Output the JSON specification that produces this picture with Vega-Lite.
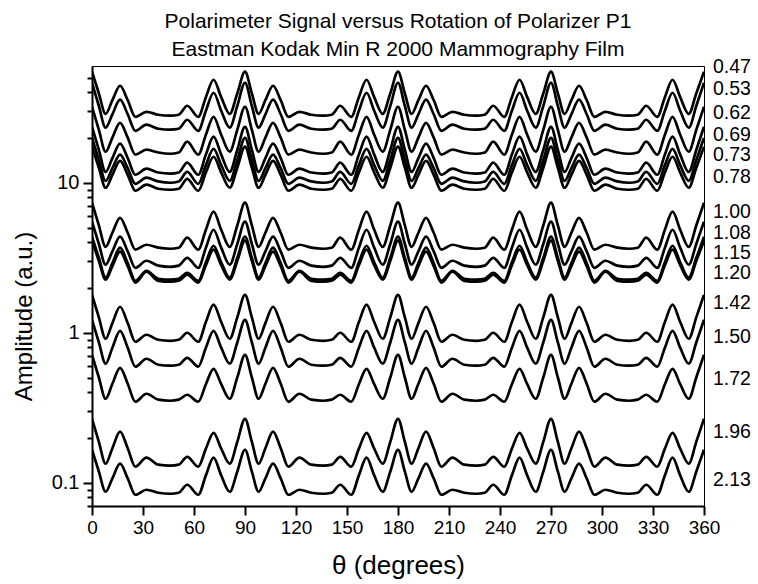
{
"$schema":"https://vega.github.io/schema/vega-lite/v6.json",
"width":612,"height":440,
"autosize":{"type":"none"},
"padding":{"left":92,"top":66,"right":54,"bottom":78},
"background":"white",
"config":{"font":"Liberation Sans","view":{"stroke":"black","strokeWidth":1},"axis":{"domainColor":"black","tickColor":"black","labelColor":"black","titleColor":"black","grid":false}},
"title":{"text":["Polarimeter Signal versus Rotation of Polarizer P1","Eastman Kodak Min R 2000 Mammography Film"],"fontSize":21,"fontWeight":"normal","lineHeight":28,"baseline":"alphabetic","offset":4,"dy":24,"color":"black","font":"Liberation Sans"},
"layer":[
{"data":{"values":[
{"s":"0.47","x":0,"y":55.0},{"s":"0.47","x":4,"y":39.5},{"s":"0.47","x":8,"y":28.8},{"s":"0.47","x":12,"y":35.5},{"s":"0.47","x":16.5,"y":44.3},{"s":"0.47","x":21,"y":35.5},{"s":"0.47","x":25.5,"y":27.5},{"s":"0.47","x":32,"y":29.7},{"s":"0.47","x":39,"y":28.4},{"s":"0.47","x":46,"y":28.0},{"s":"0.47","x":51,"y":28.4},{"s":"0.47","x":56,"y":32.6},{"s":"0.47","x":62.5,"y":27.5},{"s":"0.47","x":67,"y":37.2},{"s":"0.47","x":71.5,"y":48.6},{"s":"0.47","x":76,"y":37.2},{"s":"0.47","x":81,"y":28.8},{"s":"0.47","x":85.5,"y":39.5},
{"s":"0.47","x":90,"y":55.0},{"s":"0.47","x":94,"y":39.5},{"s":"0.47","x":98,"y":28.8},{"s":"0.47","x":102,"y":35.5},{"s":"0.47","x":106.5,"y":44.3},{"s":"0.47","x":111,"y":35.5},{"s":"0.47","x":115.5,"y":27.5},{"s":"0.47","x":122,"y":29.7},{"s":"0.47","x":129,"y":28.4},{"s":"0.47","x":136,"y":28.0},{"s":"0.47","x":141,"y":28.4},{"s":"0.47","x":146,"y":32.6},{"s":"0.47","x":152.5,"y":27.5},{"s":"0.47","x":157,"y":37.2},{"s":"0.47","x":161.5,"y":48.6},{"s":"0.47","x":166,"y":37.2},{"s":"0.47","x":171,"y":28.8},{"s":"0.47","x":175.5,"y":39.5},
{"s":"0.47","x":180,"y":55.0},{"s":"0.47","x":184,"y":39.5},{"s":"0.47","x":188,"y":28.8},{"s":"0.47","x":192,"y":35.5},{"s":"0.47","x":196.5,"y":44.3},{"s":"0.47","x":201,"y":35.5},{"s":"0.47","x":205.5,"y":27.5},{"s":"0.47","x":212,"y":29.7},{"s":"0.47","x":219,"y":28.4},{"s":"0.47","x":226,"y":28.0},{"s":"0.47","x":231,"y":28.4},{"s":"0.47","x":236,"y":32.6},{"s":"0.47","x":242.5,"y":27.5},{"s":"0.47","x":247,"y":37.2},{"s":"0.47","x":251.5,"y":48.6},{"s":"0.47","x":256,"y":37.2},{"s":"0.47","x":261,"y":28.8},{"s":"0.47","x":265.5,"y":39.5},
{"s":"0.47","x":270,"y":55.0},{"s":"0.47","x":274,"y":39.5},{"s":"0.47","x":278,"y":28.8},{"s":"0.47","x":282,"y":35.5},{"s":"0.47","x":286.5,"y":44.3},{"s":"0.47","x":291,"y":35.5},{"s":"0.47","x":295.5,"y":27.5},{"s":"0.47","x":302,"y":29.7},{"s":"0.47","x":309,"y":28.4},{"s":"0.47","x":316,"y":28.0},{"s":"0.47","x":321,"y":28.4},{"s":"0.47","x":326,"y":32.6},{"s":"0.47","x":332.5,"y":27.5},{"s":"0.47","x":337,"y":37.2},{"s":"0.47","x":341.5,"y":48.6},{"s":"0.47","x":346,"y":37.2},{"s":"0.47","x":351,"y":28.8},{"s":"0.47","x":355.5,"y":39.5},{"s":"0.47","x":360,"y":55.0},

{"s":"0.53","x":0,"y":46.4},{"s":"0.53","x":4,"y":32.6},{"s":"0.53","x":8,"y":23.3},{"s":"0.53","x":12,"y":28.6},{"s":"0.53","x":16.5,"y":35.8},{"s":"0.53","x":21,"y":28.6},{"s":"0.53","x":25.5,"y":22.2},{"s":"0.53","x":32,"y":24.4},{"s":"0.53","x":39,"y":22.9},{"s":"0.53","x":46,"y":22.6},{"s":"0.53","x":51,"y":22.9},{"s":"0.53","x":56,"y":26.3},{"s":"0.53","x":62.5,"y":22.2},{"s":"0.53","x":67,"y":30.2},{"s":"0.53","x":71.5,"y":39.8},{"s":"0.53","x":76,"y":30.2},{"s":"0.53","x":81,"y":23.3},{"s":"0.53","x":85.5,"y":32.6},
{"s":"0.53","x":90,"y":46.4},{"s":"0.53","x":94,"y":32.6},{"s":"0.53","x":98,"y":23.3},{"s":"0.53","x":102,"y":28.6},{"s":"0.53","x":106.5,"y":35.8},{"s":"0.53","x":111,"y":28.6},{"s":"0.53","x":115.5,"y":22.2},{"s":"0.53","x":122,"y":24.4},{"s":"0.53","x":129,"y":22.9},{"s":"0.53","x":136,"y":22.6},{"s":"0.53","x":141,"y":22.9},{"s":"0.53","x":146,"y":26.3},{"s":"0.53","x":152.5,"y":22.2},{"s":"0.53","x":157,"y":30.2},{"s":"0.53","x":161.5,"y":39.8},{"s":"0.53","x":166,"y":30.2},{"s":"0.53","x":171,"y":23.3},{"s":"0.53","x":175.5,"y":32.6},
{"s":"0.53","x":180,"y":46.4},{"s":"0.53","x":184,"y":32.6},{"s":"0.53","x":188,"y":23.3},{"s":"0.53","x":192,"y":28.6},{"s":"0.53","x":196.5,"y":35.8},{"s":"0.53","x":201,"y":28.6},{"s":"0.53","x":205.5,"y":22.2},{"s":"0.53","x":212,"y":24.4},{"s":"0.53","x":219,"y":22.9},{"s":"0.53","x":226,"y":22.6},{"s":"0.53","x":231,"y":22.9},{"s":"0.53","x":236,"y":26.3},{"s":"0.53","x":242.5,"y":22.2},{"s":"0.53","x":247,"y":30.2},{"s":"0.53","x":251.5,"y":39.8},{"s":"0.53","x":256,"y":30.2},{"s":"0.53","x":261,"y":23.3},{"s":"0.53","x":265.5,"y":32.6},
{"s":"0.53","x":270,"y":46.4},{"s":"0.53","x":274,"y":32.6},{"s":"0.53","x":278,"y":23.3},{"s":"0.53","x":282,"y":28.6},{"s":"0.53","x":286.5,"y":35.8},{"s":"0.53","x":291,"y":28.6},{"s":"0.53","x":295.5,"y":22.2},{"s":"0.53","x":302,"y":24.4},{"s":"0.53","x":309,"y":22.9},{"s":"0.53","x":316,"y":22.6},{"s":"0.53","x":321,"y":22.9},{"s":"0.53","x":326,"y":26.3},{"s":"0.53","x":332.5,"y":22.2},{"s":"0.53","x":337,"y":30.2},{"s":"0.53","x":341.5,"y":39.8},{"s":"0.53","x":346,"y":30.2},{"s":"0.53","x":351,"y":23.3},{"s":"0.53","x":355.5,"y":32.6},{"s":"0.53","x":360,"y":46.4},

{"s":"0.62","x":0,"y":32.1},{"s":"0.62","x":4,"y":22.6},{"s":"0.62","x":8,"y":16.1},{"s":"0.62","x":12,"y":20.0},{"s":"0.62","x":16.5,"y":25.1},{"s":"0.62","x":21,"y":20.0},{"s":"0.62","x":25.5,"y":15.4},{"s":"0.62","x":32,"y":16.6},{"s":"0.62","x":39,"y":15.9},{"s":"0.62","x":46,"y":15.6},{"s":"0.62","x":51,"y":15.9},{"s":"0.62","x":56,"y":18.8},{"s":"0.62","x":62.5,"y":15.4},{"s":"0.62","x":67,"y":20.9},{"s":"0.62","x":71.5,"y":27.5},{"s":"0.62","x":76,"y":20.9},{"s":"0.62","x":81,"y":16.1},{"s":"0.62","x":85.5,"y":22.6},
{"s":"0.62","x":90,"y":32.1},{"s":"0.62","x":94,"y":22.6},{"s":"0.62","x":98,"y":16.1},{"s":"0.62","x":102,"y":20.0},{"s":"0.62","x":106.5,"y":25.1},{"s":"0.62","x":111,"y":20.0},{"s":"0.62","x":115.5,"y":15.4},{"s":"0.62","x":122,"y":16.6},{"s":"0.62","x":129,"y":15.9},{"s":"0.62","x":136,"y":15.6},{"s":"0.62","x":141,"y":15.9},{"s":"0.62","x":146,"y":18.8},{"s":"0.62","x":152.5,"y":15.4},{"s":"0.62","x":157,"y":20.9},{"s":"0.62","x":161.5,"y":27.5},{"s":"0.62","x":166,"y":20.9},{"s":"0.62","x":171,"y":16.1},{"s":"0.62","x":175.5,"y":22.6},
{"s":"0.62","x":180,"y":32.1},{"s":"0.62","x":184,"y":22.6},{"s":"0.62","x":188,"y":16.1},{"s":"0.62","x":192,"y":20.0},{"s":"0.62","x":196.5,"y":25.1},{"s":"0.62","x":201,"y":20.0},{"s":"0.62","x":205.5,"y":15.4},{"s":"0.62","x":212,"y":16.6},{"s":"0.62","x":219,"y":15.9},{"s":"0.62","x":226,"y":15.6},{"s":"0.62","x":231,"y":15.9},{"s":"0.62","x":236,"y":18.8},{"s":"0.62","x":242.5,"y":15.4},{"s":"0.62","x":247,"y":20.9},{"s":"0.62","x":251.5,"y":27.5},{"s":"0.62","x":256,"y":20.9},{"s":"0.62","x":261,"y":16.1},{"s":"0.62","x":265.5,"y":22.6},
{"s":"0.62","x":270,"y":32.1},{"s":"0.62","x":274,"y":22.6},{"s":"0.62","x":278,"y":16.1},{"s":"0.62","x":282,"y":20.0},{"s":"0.62","x":286.5,"y":25.1},{"s":"0.62","x":291,"y":20.0},{"s":"0.62","x":295.5,"y":15.4},{"s":"0.62","x":302,"y":16.6},{"s":"0.62","x":309,"y":15.9},{"s":"0.62","x":316,"y":15.6},{"s":"0.62","x":321,"y":15.9},{"s":"0.62","x":326,"y":18.8},{"s":"0.62","x":332.5,"y":15.4},{"s":"0.62","x":337,"y":20.9},{"s":"0.62","x":341.5,"y":27.5},{"s":"0.62","x":346,"y":20.9},{"s":"0.62","x":351,"y":16.1},{"s":"0.62","x":355.5,"y":22.6},{"s":"0.62","x":360,"y":32.1},

{"s":"0.69","x":0,"y":23.6},{"s":"0.69","x":4,"y":16.6},{"s":"0.69","x":8,"y":11.8},{"s":"0.69","x":12,"y":14.6},{"s":"0.69","x":16.5,"y":18.2},{"s":"0.69","x":21,"y":14.6},{"s":"0.69","x":25.5,"y":11.3},{"s":"0.69","x":32,"y":12.4},{"s":"0.69","x":39,"y":11.7},{"s":"0.69","x":46,"y":11.5},{"s":"0.69","x":51,"y":11.7},{"s":"0.69","x":56,"y":13.6},{"s":"0.69","x":62.5,"y":11.3},{"s":"0.69","x":67,"y":15.4},{"s":"0.69","x":71.5,"y":20.3},{"s":"0.69","x":76,"y":15.4},{"s":"0.69","x":81,"y":11.8},{"s":"0.69","x":85.5,"y":16.6},
{"s":"0.69","x":90,"y":23.6},{"s":"0.69","x":94,"y":16.6},{"s":"0.69","x":98,"y":11.8},{"s":"0.69","x":102,"y":14.6},{"s":"0.69","x":106.5,"y":18.2},{"s":"0.69","x":111,"y":14.6},{"s":"0.69","x":115.5,"y":11.3},{"s":"0.69","x":122,"y":12.4},{"s":"0.69","x":129,"y":11.7},{"s":"0.69","x":136,"y":11.5},{"s":"0.69","x":141,"y":11.7},{"s":"0.69","x":146,"y":13.6},{"s":"0.69","x":152.5,"y":11.3},{"s":"0.69","x":157,"y":15.4},{"s":"0.69","x":161.5,"y":20.3},{"s":"0.69","x":166,"y":15.4},{"s":"0.69","x":171,"y":11.8},{"s":"0.69","x":175.5,"y":16.6},
{"s":"0.69","x":180,"y":23.6},{"s":"0.69","x":184,"y":16.6},{"s":"0.69","x":188,"y":11.8},{"s":"0.69","x":192,"y":14.6},{"s":"0.69","x":196.5,"y":18.2},{"s":"0.69","x":201,"y":14.6},{"s":"0.69","x":205.5,"y":11.3},{"s":"0.69","x":212,"y":12.4},{"s":"0.69","x":219,"y":11.7},{"s":"0.69","x":226,"y":11.5},{"s":"0.69","x":231,"y":11.7},{"s":"0.69","x":236,"y":13.6},{"s":"0.69","x":242.5,"y":11.3},{"s":"0.69","x":247,"y":15.4},{"s":"0.69","x":251.5,"y":20.3},{"s":"0.69","x":256,"y":15.4},{"s":"0.69","x":261,"y":11.8},{"s":"0.69","x":265.5,"y":16.6},
{"s":"0.69","x":270,"y":23.6},{"s":"0.69","x":274,"y":16.6},{"s":"0.69","x":278,"y":11.8},{"s":"0.69","x":282,"y":14.6},{"s":"0.69","x":286.5,"y":18.2},{"s":"0.69","x":291,"y":14.6},{"s":"0.69","x":295.5,"y":11.3},{"s":"0.69","x":302,"y":12.4},{"s":"0.69","x":309,"y":11.7},{"s":"0.69","x":316,"y":11.5},{"s":"0.69","x":321,"y":11.7},{"s":"0.69","x":326,"y":13.6},{"s":"0.69","x":332.5,"y":11.3},{"s":"0.69","x":337,"y":15.4},{"s":"0.69","x":341.5,"y":20.3},{"s":"0.69","x":346,"y":15.4},{"s":"0.69","x":351,"y":11.8},{"s":"0.69","x":355.5,"y":16.6},{"s":"0.69","x":360,"y":23.6},

{"s":"0.73","x":0,"y":19.9},{"s":"0.73","x":4,"y":14.2},{"s":"0.73","x":8,"y":10.3},{"s":"0.73","x":12,"y":12.5},{"s":"0.73","x":16.5,"y":15.4},{"s":"0.73","x":21,"y":12.5},{"s":"0.73","x":25.5,"y":9.84},{"s":"0.73","x":32,"y":10.8},{"s":"0.73","x":39,"y":10.2},{"s":"0.73","x":46,"y":10.0},{"s":"0.73","x":51,"y":10.2},{"s":"0.73","x":56,"y":11.8},{"s":"0.73","x":62.5,"y":9.84},{"s":"0.73","x":67,"y":13.1},{"s":"0.73","x":71.5,"y":16.8},{"s":"0.73","x":76,"y":13.1},{"s":"0.73","x":81,"y":10.3},{"s":"0.73","x":85.5,"y":14.2},
{"s":"0.73","x":90,"y":19.9},{"s":"0.73","x":94,"y":14.2},{"s":"0.73","x":98,"y":10.3},{"s":"0.73","x":102,"y":12.5},{"s":"0.73","x":106.5,"y":15.4},{"s":"0.73","x":111,"y":12.5},{"s":"0.73","x":115.5,"y":9.84},{"s":"0.73","x":122,"y":10.8},{"s":"0.73","x":129,"y":10.2},{"s":"0.73","x":136,"y":10.0},{"s":"0.73","x":141,"y":10.2},{"s":"0.73","x":146,"y":11.8},{"s":"0.73","x":152.5,"y":9.84},{"s":"0.73","x":157,"y":13.1},{"s":"0.73","x":161.5,"y":16.8},{"s":"0.73","x":166,"y":13.1},{"s":"0.73","x":171,"y":10.3},{"s":"0.73","x":175.5,"y":14.2},
{"s":"0.73","x":180,"y":19.9},{"s":"0.73","x":184,"y":14.2},{"s":"0.73","x":188,"y":10.3},{"s":"0.73","x":192,"y":12.5},{"s":"0.73","x":196.5,"y":15.4},{"s":"0.73","x":201,"y":12.5},{"s":"0.73","x":205.5,"y":9.84},{"s":"0.73","x":212,"y":10.8},{"s":"0.73","x":219,"y":10.2},{"s":"0.73","x":226,"y":10.0},{"s":"0.73","x":231,"y":10.2},{"s":"0.73","x":236,"y":11.8},{"s":"0.73","x":242.5,"y":9.84},{"s":"0.73","x":247,"y":13.1},{"s":"0.73","x":251.5,"y":16.8},{"s":"0.73","x":256,"y":13.1},{"s":"0.73","x":261,"y":10.3},{"s":"0.73","x":265.5,"y":14.2},
{"s":"0.73","x":270,"y":19.9},{"s":"0.73","x":274,"y":14.2},{"s":"0.73","x":278,"y":10.3},{"s":"0.73","x":282,"y":12.5},{"s":"0.73","x":286.5,"y":15.4},{"s":"0.73","x":291,"y":12.5},{"s":"0.73","x":295.5,"y":9.84},{"s":"0.73","x":302,"y":10.8},{"s":"0.73","x":309,"y":10.2},{"s":"0.73","x":316,"y":10.0},{"s":"0.73","x":321,"y":10.2},{"s":"0.73","x":326,"y":11.8},{"s":"0.73","x":332.5,"y":9.84},{"s":"0.73","x":337,"y":13.1},{"s":"0.73","x":341.5,"y":16.8},{"s":"0.73","x":346,"y":13.1},{"s":"0.73","x":351,"y":10.3},{"s":"0.73","x":355.5,"y":14.2},{"s":"0.73","x":360,"y":19.9},

{"s":"0.78","x":0,"y":17.4},{"s":"0.78","x":4,"y":12.6},{"s":"0.78","x":8,"y":9.26},{"s":"0.78","x":12,"y":11.3},{"s":"0.78","x":16.5,"y":14.0},{"s":"0.78","x":21,"y":11.3},{"s":"0.78","x":25.5,"y":8.84},{"s":"0.78","x":32,"y":9.70},{"s":"0.78","x":39,"y":9.12},{"s":"0.78","x":46,"y":8.98},{"s":"0.78","x":51,"y":9.12},{"s":"0.78","x":56,"y":10.6},{"s":"0.78","x":62.5,"y":8.84},{"s":"0.78","x":67,"y":11.7},{"s":"0.78","x":71.5,"y":14.9},{"s":"0.78","x":76,"y":11.7},{"s":"0.78","x":81,"y":9.26},{"s":"0.78","x":85.5,"y":12.6},
{"s":"0.78","x":90,"y":17.4},{"s":"0.78","x":94,"y":12.6},{"s":"0.78","x":98,"y":9.26},{"s":"0.78","x":102,"y":11.3},{"s":"0.78","x":106.5,"y":14.0},{"s":"0.78","x":111,"y":11.3},{"s":"0.78","x":115.5,"y":8.84},{"s":"0.78","x":122,"y":9.70},{"s":"0.78","x":129,"y":9.12},{"s":"0.78","x":136,"y":8.98},{"s":"0.78","x":141,"y":9.12},{"s":"0.78","x":146,"y":10.6},{"s":"0.78","x":152.5,"y":8.84},{"s":"0.78","x":157,"y":11.7},{"s":"0.78","x":161.5,"y":14.9},{"s":"0.78","x":166,"y":11.7},{"s":"0.78","x":171,"y":9.26},{"s":"0.78","x":175.5,"y":12.6},
{"s":"0.78","x":180,"y":17.4},{"s":"0.78","x":184,"y":12.6},{"s":"0.78","x":188,"y":9.26},{"s":"0.78","x":192,"y":11.3},{"s":"0.78","x":196.5,"y":14.0},{"s":"0.78","x":201,"y":11.3},{"s":"0.78","x":205.5,"y":8.84},{"s":"0.78","x":212,"y":9.70},{"s":"0.78","x":219,"y":9.12},{"s":"0.78","x":226,"y":8.98},{"s":"0.78","x":231,"y":9.12},{"s":"0.78","x":236,"y":10.6},{"s":"0.78","x":242.5,"y":8.84},{"s":"0.78","x":247,"y":11.7},{"s":"0.78","x":251.5,"y":14.9},{"s":"0.78","x":256,"y":11.7},{"s":"0.78","x":261,"y":9.26},{"s":"0.78","x":265.5,"y":12.6},
{"s":"0.78","x":270,"y":17.4},{"s":"0.78","x":274,"y":12.6},{"s":"0.78","x":278,"y":9.26},{"s":"0.78","x":282,"y":11.3},{"s":"0.78","x":286.5,"y":14.0},{"s":"0.78","x":291,"y":11.3},{"s":"0.78","x":295.5,"y":8.84},{"s":"0.78","x":302,"y":9.70},{"s":"0.78","x":309,"y":9.12},{"s":"0.78","x":316,"y":8.98},{"s":"0.78","x":321,"y":9.12},{"s":"0.78","x":326,"y":10.6},{"s":"0.78","x":332.5,"y":8.84},{"s":"0.78","x":337,"y":11.7},{"s":"0.78","x":341.5,"y":14.9},{"s":"0.78","x":346,"y":11.7},{"s":"0.78","x":351,"y":9.26},{"s":"0.78","x":355.5,"y":12.6},{"s":"0.78","x":360,"y":17.4},

{"s":"1.00","x":0,"y":7.36},{"s":"1.00","x":4,"y":5.21},{"s":"1.00","x":8,"y":3.74},{"s":"1.00","x":12,"y":4.64},{"s":"1.00","x":16.5,"y":5.84},{"s":"1.00","x":21,"y":4.64},{"s":"1.00","x":25.5,"y":3.58},{"s":"1.00","x":32,"y":3.86},{"s":"1.00","x":39,"y":3.69},{"s":"1.00","x":46,"y":3.63},{"s":"1.00","x":51,"y":3.69},{"s":"1.00","x":56,"y":4.30},{"s":"1.00","x":62.5,"y":3.58},{"s":"1.00","x":67,"y":4.86},{"s":"1.00","x":71.5,"y":6.41},{"s":"1.00","x":76,"y":4.86},{"s":"1.00","x":81,"y":3.74},{"s":"1.00","x":85.5,"y":5.21},
{"s":"1.00","x":90,"y":7.36},{"s":"1.00","x":94,"y":5.21},{"s":"1.00","x":98,"y":3.74},{"s":"1.00","x":102,"y":4.64},{"s":"1.00","x":106.5,"y":5.84},{"s":"1.00","x":111,"y":4.64},{"s":"1.00","x":115.5,"y":3.58},{"s":"1.00","x":122,"y":3.86},{"s":"1.00","x":129,"y":3.69},{"s":"1.00","x":136,"y":3.63},{"s":"1.00","x":141,"y":3.69},{"s":"1.00","x":146,"y":4.30},{"s":"1.00","x":152.5,"y":3.58},{"s":"1.00","x":157,"y":4.86},{"s":"1.00","x":161.5,"y":6.41},{"s":"1.00","x":166,"y":4.86},{"s":"1.00","x":171,"y":3.74},{"s":"1.00","x":175.5,"y":5.21},
{"s":"1.00","x":180,"y":7.36},{"s":"1.00","x":184,"y":5.21},{"s":"1.00","x":188,"y":3.74},{"s":"1.00","x":192,"y":4.64},{"s":"1.00","x":196.5,"y":5.84},{"s":"1.00","x":201,"y":4.64},{"s":"1.00","x":205.5,"y":3.58},{"s":"1.00","x":212,"y":3.86},{"s":"1.00","x":219,"y":3.69},{"s":"1.00","x":226,"y":3.63},{"s":"1.00","x":231,"y":3.69},{"s":"1.00","x":236,"y":4.30},{"s":"1.00","x":242.5,"y":3.58},{"s":"1.00","x":247,"y":4.86},{"s":"1.00","x":251.5,"y":6.41},{"s":"1.00","x":256,"y":4.86},{"s":"1.00","x":261,"y":3.74},{"s":"1.00","x":265.5,"y":5.21},
{"s":"1.00","x":270,"y":7.36},{"s":"1.00","x":274,"y":5.21},{"s":"1.00","x":278,"y":3.74},{"s":"1.00","x":282,"y":4.64},{"s":"1.00","x":286.5,"y":5.84},{"s":"1.00","x":291,"y":4.64},{"s":"1.00","x":295.5,"y":3.58},{"s":"1.00","x":302,"y":3.86},{"s":"1.00","x":309,"y":3.69},{"s":"1.00","x":316,"y":3.63},{"s":"1.00","x":321,"y":3.69},{"s":"1.00","x":326,"y":4.30},{"s":"1.00","x":332.5,"y":3.58},{"s":"1.00","x":337,"y":4.86},{"s":"1.00","x":341.5,"y":6.41},{"s":"1.00","x":346,"y":4.86},{"s":"1.00","x":351,"y":3.74},{"s":"1.00","x":355.5,"y":5.21},{"s":"1.00","x":360,"y":7.36},

{"s":"1.08","x":0,"y":5.50},{"s":"1.08","x":4,"y":3.92},{"s":"1.08","x":8,"y":2.84},{"s":"1.08","x":12,"y":3.49},{"s":"1.08","x":16.5,"y":4.37},{"s":"1.08","x":21,"y":3.49},{"s":"1.08","x":25.5,"y":2.71},{"s":"1.08","x":32,"y":3.02},{"s":"1.08","x":39,"y":2.80},{"s":"1.08","x":46,"y":2.75},{"s":"1.08","x":51,"y":2.80},{"s":"1.08","x":56,"y":3.16},{"s":"1.08","x":62.5,"y":2.71},{"s":"1.08","x":67,"y":3.69},{"s":"1.08","x":71.5,"y":4.86},{"s":"1.08","x":76,"y":3.69},{"s":"1.08","x":81,"y":2.84},{"s":"1.08","x":85.5,"y":3.92},
{"s":"1.08","x":90,"y":5.50},{"s":"1.08","x":94,"y":3.92},{"s":"1.08","x":98,"y":2.84},{"s":"1.08","x":102,"y":3.49},{"s":"1.08","x":106.5,"y":4.37},{"s":"1.08","x":111,"y":3.49},{"s":"1.08","x":115.5,"y":2.71},{"s":"1.08","x":122,"y":3.02},{"s":"1.08","x":129,"y":2.80},{"s":"1.08","x":136,"y":2.75},{"s":"1.08","x":141,"y":2.80},{"s":"1.08","x":146,"y":3.16},{"s":"1.08","x":152.5,"y":2.71},{"s":"1.08","x":157,"y":3.69},{"s":"1.08","x":161.5,"y":4.86},{"s":"1.08","x":166,"y":3.69},{"s":"1.08","x":171,"y":2.84},{"s":"1.08","x":175.5,"y":3.92},
{"s":"1.08","x":180,"y":5.50},{"s":"1.08","x":184,"y":3.92},{"s":"1.08","x":188,"y":2.84},{"s":"1.08","x":192,"y":3.49},{"s":"1.08","x":196.5,"y":4.37},{"s":"1.08","x":201,"y":3.49},{"s":"1.08","x":205.5,"y":2.71},{"s":"1.08","x":212,"y":3.02},{"s":"1.08","x":219,"y":2.80},{"s":"1.08","x":226,"y":2.75},{"s":"1.08","x":231,"y":2.80},{"s":"1.08","x":236,"y":3.16},{"s":"1.08","x":242.5,"y":2.71},{"s":"1.08","x":247,"y":3.69},{"s":"1.08","x":251.5,"y":4.86},{"s":"1.08","x":256,"y":3.69},{"s":"1.08","x":261,"y":2.84},{"s":"1.08","x":265.5,"y":3.92},
{"s":"1.08","x":270,"y":5.50},{"s":"1.08","x":274,"y":3.92},{"s":"1.08","x":278,"y":2.84},{"s":"1.08","x":282,"y":3.49},{"s":"1.08","x":286.5,"y":4.37},{"s":"1.08","x":291,"y":3.49},{"s":"1.08","x":295.5,"y":2.71},{"s":"1.08","x":302,"y":3.02},{"s":"1.08","x":309,"y":2.80},{"s":"1.08","x":316,"y":2.75},{"s":"1.08","x":321,"y":2.80},{"s":"1.08","x":326,"y":3.16},{"s":"1.08","x":332.5,"y":2.71},{"s":"1.08","x":337,"y":3.69},{"s":"1.08","x":341.5,"y":4.86},{"s":"1.08","x":346,"y":3.69},{"s":"1.08","x":351,"y":2.84},{"s":"1.08","x":355.5,"y":3.92},{"s":"1.08","x":360,"y":5.50},

{"s":"1.15","x":0,"y":4.37},{"s":"1.15","x":4,"y":3.16},{"s":"1.15","x":8,"y":2.33},{"s":"1.15","x":12,"y":2.91},{"s":"1.15","x":16.5,"y":3.69},{"s":"1.15","x":21,"y":2.91},{"s":"1.15","x":25.5,"y":2.22},{"s":"1.15","x":32,"y":2.59},{"s":"1.15","x":39,"y":2.29},{"s":"1.15","x":46,"y":2.26},{"s":"1.15","x":51,"y":2.29},{"s":"1.15","x":56,"y":2.51},{"s":"1.15","x":62.5,"y":2.22},{"s":"1.15","x":67,"y":2.95},{"s":"1.15","x":71.5,"y":3.80},{"s":"1.15","x":76,"y":2.95},{"s":"1.15","x":81,"y":2.33},{"s":"1.15","x":85.5,"y":3.16},
{"s":"1.15","x":90,"y":4.37},{"s":"1.15","x":94,"y":3.16},{"s":"1.15","x":98,"y":2.33},{"s":"1.15","x":102,"y":2.91},{"s":"1.15","x":106.5,"y":3.69},{"s":"1.15","x":111,"y":2.91},{"s":"1.15","x":115.5,"y":2.22},{"s":"1.15","x":122,"y":2.59},{"s":"1.15","x":129,"y":2.29},{"s":"1.15","x":136,"y":2.26},{"s":"1.15","x":141,"y":2.29},{"s":"1.15","x":146,"y":2.51},{"s":"1.15","x":152.5,"y":2.22},{"s":"1.15","x":157,"y":2.95},{"s":"1.15","x":161.5,"y":3.80},{"s":"1.15","x":166,"y":2.95},{"s":"1.15","x":171,"y":2.33},{"s":"1.15","x":175.5,"y":3.16},
{"s":"1.15","x":180,"y":4.37},{"s":"1.15","x":184,"y":3.16},{"s":"1.15","x":188,"y":2.33},{"s":"1.15","x":192,"y":2.91},{"s":"1.15","x":196.5,"y":3.69},{"s":"1.15","x":201,"y":2.91},{"s":"1.15","x":205.5,"y":2.22},{"s":"1.15","x":212,"y":2.59},{"s":"1.15","x":219,"y":2.29},{"s":"1.15","x":226,"y":2.26},{"s":"1.15","x":231,"y":2.29},{"s":"1.15","x":236,"y":2.51},{"s":"1.15","x":242.5,"y":2.22},{"s":"1.15","x":247,"y":2.95},{"s":"1.15","x":251.5,"y":3.80},{"s":"1.15","x":256,"y":2.95},{"s":"1.15","x":261,"y":2.33},{"s":"1.15","x":265.5,"y":3.16},
{"s":"1.15","x":270,"y":4.37},{"s":"1.15","x":274,"y":3.16},{"s":"1.15","x":278,"y":2.33},{"s":"1.15","x":282,"y":2.91},{"s":"1.15","x":286.5,"y":3.69},{"s":"1.15","x":291,"y":2.91},{"s":"1.15","x":295.5,"y":2.22},{"s":"1.15","x":302,"y":2.59},{"s":"1.15","x":309,"y":2.29},{"s":"1.15","x":316,"y":2.26},{"s":"1.15","x":321,"y":2.29},{"s":"1.15","x":326,"y":2.51},{"s":"1.15","x":332.5,"y":2.22},{"s":"1.15","x":337,"y":2.95},{"s":"1.15","x":341.5,"y":3.80},{"s":"1.15","x":346,"y":2.95},{"s":"1.15","x":351,"y":2.33},{"s":"1.15","x":355.5,"y":3.16},{"s":"1.15","x":360,"y":4.37},

{"s":"1.20","x":0,"y":4.11},{"s":"1.20","x":4,"y":3.02},{"s":"1.20","x":8,"y":2.26},{"s":"1.20","x":12,"y":2.78},{"s":"1.20","x":16.5,"y":3.47},{"s":"1.20","x":21,"y":2.78},{"s":"1.20","x":25.5,"y":2.16},{"s":"1.20","x":32,"y":2.55},{"s":"1.20","x":39,"y":2.22},{"s":"1.20","x":46,"y":2.19},{"s":"1.20","x":51,"y":2.22},{"s":"1.20","x":56,"y":2.44},{"s":"1.20","x":62.5,"y":2.16},{"s":"1.20","x":67,"y":2.82},{"s":"1.20","x":71.5,"y":3.58},{"s":"1.20","x":76,"y":2.82},{"s":"1.20","x":81,"y":2.26},{"s":"1.20","x":85.5,"y":3.02},
{"s":"1.20","x":90,"y":4.11},{"s":"1.20","x":94,"y":3.02},{"s":"1.20","x":98,"y":2.26},{"s":"1.20","x":102,"y":2.78},{"s":"1.20","x":106.5,"y":3.47},{"s":"1.20","x":111,"y":2.78},{"s":"1.20","x":115.5,"y":2.16},{"s":"1.20","x":122,"y":2.55},{"s":"1.20","x":129,"y":2.22},{"s":"1.20","x":136,"y":2.19},{"s":"1.20","x":141,"y":2.22},{"s":"1.20","x":146,"y":2.44},{"s":"1.20","x":152.5,"y":2.16},{"s":"1.20","x":157,"y":2.82},{"s":"1.20","x":161.5,"y":3.58},{"s":"1.20","x":166,"y":2.82},{"s":"1.20","x":171,"y":2.26},{"s":"1.20","x":175.5,"y":3.02},
{"s":"1.20","x":180,"y":4.11},{"s":"1.20","x":184,"y":3.02},{"s":"1.20","x":188,"y":2.26},{"s":"1.20","x":192,"y":2.78},{"s":"1.20","x":196.5,"y":3.47},{"s":"1.20","x":201,"y":2.78},{"s":"1.20","x":205.5,"y":2.16},{"s":"1.20","x":212,"y":2.55},{"s":"1.20","x":219,"y":2.22},{"s":"1.20","x":226,"y":2.19},{"s":"1.20","x":231,"y":2.22},{"s":"1.20","x":236,"y":2.44},{"s":"1.20","x":242.5,"y":2.16},{"s":"1.20","x":247,"y":2.82},{"s":"1.20","x":251.5,"y":3.58},{"s":"1.20","x":256,"y":2.82},{"s":"1.20","x":261,"y":2.26},{"s":"1.20","x":265.5,"y":3.02},
{"s":"1.20","x":270,"y":4.11},{"s":"1.20","x":274,"y":3.02},{"s":"1.20","x":278,"y":2.26},{"s":"1.20","x":282,"y":2.78},{"s":"1.20","x":286.5,"y":3.47},{"s":"1.20","x":291,"y":2.78},{"s":"1.20","x":295.5,"y":2.16},{"s":"1.20","x":302,"y":2.55},{"s":"1.20","x":309,"y":2.22},{"s":"1.20","x":316,"y":2.19},{"s":"1.20","x":321,"y":2.22},{"s":"1.20","x":326,"y":2.44},{"s":"1.20","x":332.5,"y":2.16},{"s":"1.20","x":337,"y":2.82},{"s":"1.20","x":341.5,"y":3.58},{"s":"1.20","x":346,"y":2.82},{"s":"1.20","x":351,"y":2.26},{"s":"1.20","x":355.5,"y":3.02},{"s":"1.20","x":360,"y":4.11},

{"s":"1.42","x":0,"y":1.79},{"s":"1.42","x":4,"y":1.27},{"s":"1.42","x":8,"y":0.912},{"s":"1.42","x":12,"y":1.16},{"s":"1.42","x":16.5,"y":1.49},{"s":"1.42","x":21,"y":1.16},{"s":"1.42","x":25.5,"y":0.871},{"s":"1.42","x":32,"y":0.970},{"s":"1.42","x":39,"y":0.898},{"s":"1.42","x":46,"y":0.884},{"s":"1.42","x":51,"y":0.898},{"s":"1.42","x":56,"y":1.00},{"s":"1.42","x":62.5,"y":0.871},{"s":"1.42","x":67,"y":1.18},{"s":"1.42","x":71.5,"y":1.54},{"s":"1.42","x":76,"y":1.18},{"s":"1.42","x":81,"y":0.912},{"s":"1.42","x":85.5,"y":1.27},
{"s":"1.42","x":90,"y":1.79},{"s":"1.42","x":94,"y":1.27},{"s":"1.42","x":98,"y":0.912},{"s":"1.42","x":102,"y":1.16},{"s":"1.42","x":106.5,"y":1.49},{"s":"1.42","x":111,"y":1.16},{"s":"1.42","x":115.5,"y":0.871},{"s":"1.42","x":122,"y":0.970},{"s":"1.42","x":129,"y":0.898},{"s":"1.42","x":136,"y":0.884},{"s":"1.42","x":141,"y":0.898},{"s":"1.42","x":146,"y":1.00},{"s":"1.42","x":152.5,"y":0.871},{"s":"1.42","x":157,"y":1.18},{"s":"1.42","x":161.5,"y":1.54},{"s":"1.42","x":166,"y":1.18},{"s":"1.42","x":171,"y":0.912},{"s":"1.42","x":175.5,"y":1.27},
{"s":"1.42","x":180,"y":1.79},{"s":"1.42","x":184,"y":1.27},{"s":"1.42","x":188,"y":0.912},{"s":"1.42","x":192,"y":1.16},{"s":"1.42","x":196.5,"y":1.49},{"s":"1.42","x":201,"y":1.16},{"s":"1.42","x":205.5,"y":0.871},{"s":"1.42","x":212,"y":0.970},{"s":"1.42","x":219,"y":0.898},{"s":"1.42","x":226,"y":0.884},{"s":"1.42","x":231,"y":0.898},{"s":"1.42","x":236,"y":1.00},{"s":"1.42","x":242.5,"y":0.871},{"s":"1.42","x":247,"y":1.18},{"s":"1.42","x":251.5,"y":1.54},{"s":"1.42","x":256,"y":1.18},{"s":"1.42","x":261,"y":0.912},{"s":"1.42","x":265.5,"y":1.27},
{"s":"1.42","x":270,"y":1.79},{"s":"1.42","x":274,"y":1.27},{"s":"1.42","x":278,"y":0.912},{"s":"1.42","x":282,"y":1.16},{"s":"1.42","x":286.5,"y":1.49},{"s":"1.42","x":291,"y":1.16},{"s":"1.42","x":295.5,"y":0.871},{"s":"1.42","x":302,"y":0.970},{"s":"1.42","x":309,"y":0.898},{"s":"1.42","x":316,"y":0.884},{"s":"1.42","x":321,"y":0.898},{"s":"1.42","x":326,"y":1.00},{"s":"1.42","x":332.5,"y":0.871},{"s":"1.42","x":337,"y":1.18},{"s":"1.42","x":341.5,"y":1.54},{"s":"1.42","x":346,"y":1.18},{"s":"1.42","x":351,"y":0.912},{"s":"1.42","x":355.5,"y":1.27},{"s":"1.42","x":360,"y":1.79},

{"s":"1.50","x":0,"y":1.22},{"s":"1.50","x":4,"y":0.865},{"s":"1.50","x":8,"y":0.622},{"s":"1.50","x":12,"y":0.795},{"s":"1.50","x":16.5,"y":1.03},{"s":"1.50","x":21,"y":0.795},{"s":"1.50","x":25.5,"y":0.594},{"s":"1.50","x":32,"y":0.671},{"s":"1.50","x":39,"y":0.612},{"s":"1.50","x":46,"y":0.603},{"s":"1.50","x":51,"y":0.612},{"s":"1.50","x":56,"y":0.681},{"s":"1.50","x":62.5,"y":0.594},{"s":"1.50","x":67,"y":0.795},{"s":"1.50","x":71.5,"y":1.03},{"s":"1.50","x":76,"y":0.795},{"s":"1.50","x":81,"y":0.622},{"s":"1.50","x":85.5,"y":0.865},
{"s":"1.50","x":90,"y":1.22},{"s":"1.50","x":94,"y":0.865},{"s":"1.50","x":98,"y":0.622},{"s":"1.50","x":102,"y":0.795},{"s":"1.50","x":106.5,"y":1.03},{"s":"1.50","x":111,"y":0.795},{"s":"1.50","x":115.5,"y":0.594},{"s":"1.50","x":122,"y":0.671},{"s":"1.50","x":129,"y":0.612},{"s":"1.50","x":136,"y":0.603},{"s":"1.50","x":141,"y":0.612},{"s":"1.50","x":146,"y":0.681},{"s":"1.50","x":152.5,"y":0.594},{"s":"1.50","x":157,"y":0.795},{"s":"1.50","x":161.5,"y":1.03},{"s":"1.50","x":166,"y":0.795},{"s":"1.50","x":171,"y":0.622},{"s":"1.50","x":175.5,"y":0.865},
{"s":"1.50","x":180,"y":1.22},{"s":"1.50","x":184,"y":0.865},{"s":"1.50","x":188,"y":0.622},{"s":"1.50","x":192,"y":0.795},{"s":"1.50","x":196.5,"y":1.03},{"s":"1.50","x":201,"y":0.795},{"s":"1.50","x":205.5,"y":0.594},{"s":"1.50","x":212,"y":0.671},{"s":"1.50","x":219,"y":0.612},{"s":"1.50","x":226,"y":0.603},{"s":"1.50","x":231,"y":0.612},{"s":"1.50","x":236,"y":0.681},{"s":"1.50","x":242.5,"y":0.594},{"s":"1.50","x":247,"y":0.795},{"s":"1.50","x":251.5,"y":1.03},{"s":"1.50","x":256,"y":0.795},{"s":"1.50","x":261,"y":0.622},{"s":"1.50","x":265.5,"y":0.865},
{"s":"1.50","x":270,"y":1.22},{"s":"1.50","x":274,"y":0.865},{"s":"1.50","x":278,"y":0.622},{"s":"1.50","x":282,"y":0.795},{"s":"1.50","x":286.5,"y":1.03},{"s":"1.50","x":291,"y":0.795},{"s":"1.50","x":295.5,"y":0.594},{"s":"1.50","x":302,"y":0.671},{"s":"1.50","x":309,"y":0.612},{"s":"1.50","x":316,"y":0.603},{"s":"1.50","x":321,"y":0.612},{"s":"1.50","x":326,"y":0.681},{"s":"1.50","x":332.5,"y":0.594},{"s":"1.50","x":337,"y":0.795},{"s":"1.50","x":341.5,"y":1.03},{"s":"1.50","x":346,"y":0.795},{"s":"1.50","x":351,"y":0.622},{"s":"1.50","x":355.5,"y":0.865},{"s":"1.50","x":360,"y":1.22},

{"s":"1.72","x":0,"y":0.713},{"s":"1.72","x":4,"y":0.505},{"s":"1.72","x":8,"y":0.363},{"s":"1.72","x":12,"y":0.457},{"s":"1.72","x":16.5,"y":0.584},{"s":"1.72","x":21,"y":0.457},{"s":"1.72","x":25.5,"y":0.347},{"s":"1.72","x":32,"y":0.392},{"s":"1.72","x":39,"y":0.358},{"s":"1.72","x":46,"y":0.352},{"s":"1.72","x":51,"y":0.358},{"s":"1.72","x":56,"y":0.386},{"s":"1.72","x":62.5,"y":0.347},{"s":"1.72","x":67,"y":0.454},{"s":"1.72","x":71.5,"y":0.575},{"s":"1.72","x":76,"y":0.454},{"s":"1.72","x":81,"y":0.363},{"s":"1.72","x":85.5,"y":0.505},
{"s":"1.72","x":90,"y":0.713},{"s":"1.72","x":94,"y":0.505},{"s":"1.72","x":98,"y":0.363},{"s":"1.72","x":102,"y":0.457},{"s":"1.72","x":106.5,"y":0.584},{"s":"1.72","x":111,"y":0.457},{"s":"1.72","x":115.5,"y":0.347},{"s":"1.72","x":122,"y":0.392},{"s":"1.72","x":129,"y":0.358},{"s":"1.72","x":136,"y":0.352},{"s":"1.72","x":141,"y":0.358},{"s":"1.72","x":146,"y":0.386},{"s":"1.72","x":152.5,"y":0.347},{"s":"1.72","x":157,"y":0.454},{"s":"1.72","x":161.5,"y":0.575},{"s":"1.72","x":166,"y":0.454},{"s":"1.72","x":171,"y":0.363},{"s":"1.72","x":175.5,"y":0.505},
{"s":"1.72","x":180,"y":0.713},{"s":"1.72","x":184,"y":0.505},{"s":"1.72","x":188,"y":0.363},{"s":"1.72","x":192,"y":0.457},{"s":"1.72","x":196.5,"y":0.584},{"s":"1.72","x":201,"y":0.457},{"s":"1.72","x":205.5,"y":0.347},{"s":"1.72","x":212,"y":0.392},{"s":"1.72","x":219,"y":0.358},{"s":"1.72","x":226,"y":0.352},{"s":"1.72","x":231,"y":0.358},{"s":"1.72","x":236,"y":0.386},{"s":"1.72","x":242.5,"y":0.347},{"s":"1.72","x":247,"y":0.454},{"s":"1.72","x":251.5,"y":0.575},{"s":"1.72","x":256,"y":0.454},{"s":"1.72","x":261,"y":0.363},{"s":"1.72","x":265.5,"y":0.505},
{"s":"1.72","x":270,"y":0.713},{"s":"1.72","x":274,"y":0.505},{"s":"1.72","x":278,"y":0.363},{"s":"1.72","x":282,"y":0.457},{"s":"1.72","x":286.5,"y":0.584},{"s":"1.72","x":291,"y":0.457},{"s":"1.72","x":295.5,"y":0.347},{"s":"1.72","x":302,"y":0.392},{"s":"1.72","x":309,"y":0.358},{"s":"1.72","x":316,"y":0.352},{"s":"1.72","x":321,"y":0.358},{"s":"1.72","x":326,"y":0.386},{"s":"1.72","x":332.5,"y":0.347},{"s":"1.72","x":337,"y":0.454},{"s":"1.72","x":341.5,"y":0.575},{"s":"1.72","x":346,"y":0.454},{"s":"1.72","x":351,"y":0.363},{"s":"1.72","x":355.5,"y":0.505},{"s":"1.72","x":360,"y":0.713},

{"s":"1.96","x":0,"y":0.267},{"s":"1.96","x":4,"y":0.188},{"s":"1.96","x":8,"y":0.134},{"s":"1.96","x":12,"y":0.170},{"s":"1.96","x":16.5,"y":0.219},{"s":"1.96","x":21,"y":0.170},{"s":"1.96","x":25.5,"y":0.128},{"s":"1.96","x":32,"y":0.147},{"s":"1.96","x":39,"y":0.132},{"s":"1.96","x":46,"y":0.130},{"s":"1.96","x":51,"y":0.132},{"s":"1.96","x":56,"y":0.149},{"s":"1.96","x":62.5,"y":0.128},{"s":"1.96","x":67,"y":0.169},{"s":"1.96","x":71.5,"y":0.215},{"s":"1.96","x":76,"y":0.169},{"s":"1.96","x":81,"y":0.134},{"s":"1.96","x":85.5,"y":0.188},
{"s":"1.96","x":90,"y":0.267},{"s":"1.96","x":94,"y":0.188},{"s":"1.96","x":98,"y":0.134},{"s":"1.96","x":102,"y":0.170},{"s":"1.96","x":106.5,"y":0.219},{"s":"1.96","x":111,"y":0.170},{"s":"1.96","x":115.5,"y":0.128},{"s":"1.96","x":122,"y":0.147},{"s":"1.96","x":129,"y":0.132},{"s":"1.96","x":136,"y":0.130},{"s":"1.96","x":141,"y":0.132},{"s":"1.96","x":146,"y":0.149},{"s":"1.96","x":152.5,"y":0.128},{"s":"1.96","x":157,"y":0.169},{"s":"1.96","x":161.5,"y":0.215},{"s":"1.96","x":166,"y":0.169},{"s":"1.96","x":171,"y":0.134},{"s":"1.96","x":175.5,"y":0.188},
{"s":"1.96","x":180,"y":0.267},{"s":"1.96","x":184,"y":0.188},{"s":"1.96","x":188,"y":0.134},{"s":"1.96","x":192,"y":0.170},{"s":"1.96","x":196.5,"y":0.219},{"s":"1.96","x":201,"y":0.170},{"s":"1.96","x":205.5,"y":0.128},{"s":"1.96","x":212,"y":0.147},{"s":"1.96","x":219,"y":0.132},{"s":"1.96","x":226,"y":0.130},{"s":"1.96","x":231,"y":0.132},{"s":"1.96","x":236,"y":0.149},{"s":"1.96","x":242.5,"y":0.128},{"s":"1.96","x":247,"y":0.169},{"s":"1.96","x":251.5,"y":0.215},{"s":"1.96","x":256,"y":0.169},{"s":"1.96","x":261,"y":0.134},{"s":"1.96","x":265.5,"y":0.188},
{"s":"1.96","x":270,"y":0.267},{"s":"1.96","x":274,"y":0.188},{"s":"1.96","x":278,"y":0.134},{"s":"1.96","x":282,"y":0.170},{"s":"1.96","x":286.5,"y":0.219},{"s":"1.96","x":291,"y":0.170},{"s":"1.96","x":295.5,"y":0.128},{"s":"1.96","x":302,"y":0.147},{"s":"1.96","x":309,"y":0.132},{"s":"1.96","x":316,"y":0.130},{"s":"1.96","x":321,"y":0.132},{"s":"1.96","x":326,"y":0.149},{"s":"1.96","x":332.5,"y":0.128},{"s":"1.96","x":337,"y":0.169},{"s":"1.96","x":341.5,"y":0.215},{"s":"1.96","x":346,"y":0.169},{"s":"1.96","x":351,"y":0.134},{"s":"1.96","x":355.5,"y":0.188},{"s":"1.96","x":360,"y":0.267},

{"s":"2.13","x":0,"y":0.166},{"s":"2.13","x":4,"y":0.119},{"s":"2.13","x":8,"y":0.0871},{"s":"2.13","x":12,"y":0.107},{"s":"2.13","x":16.5,"y":0.134},{"s":"2.13","x":21,"y":0.107},{"s":"2.13","x":25.5,"y":0.0832},{"s":"2.13","x":32,"y":0.0898},{"s":"2.13","x":39,"y":0.0858},{"s":"2.13","x":46,"y":0.0845},{"s":"2.13","x":51,"y":0.0858},{"s":"2.13","x":56,"y":0.0970},{"s":"2.13","x":62.5,"y":0.0832},{"s":"2.13","x":67,"y":0.112},{"s":"2.13","x":71.5,"y":0.147},{"s":"2.13","x":76,"y":0.112},{"s":"2.13","x":81,"y":0.0871},{"s":"2.13","x":85.5,"y":0.119},
{"s":"2.13","x":90,"y":0.166},{"s":"2.13","x":94,"y":0.119},{"s":"2.13","x":98,"y":0.0871},{"s":"2.13","x":102,"y":0.107},{"s":"2.13","x":106.5,"y":0.134},{"s":"2.13","x":111,"y":0.107},{"s":"2.13","x":115.5,"y":0.0832},{"s":"2.13","x":122,"y":0.0898},{"s":"2.13","x":129,"y":0.0858},{"s":"2.13","x":136,"y":0.0845},{"s":"2.13","x":141,"y":0.0858},{"s":"2.13","x":146,"y":0.0970},{"s":"2.13","x":152.5,"y":0.0832},{"s":"2.13","x":157,"y":0.112},{"s":"2.13","x":161.5,"y":0.147},{"s":"2.13","x":166,"y":0.112},{"s":"2.13","x":171,"y":0.0871},{"s":"2.13","x":175.5,"y":0.119},
{"s":"2.13","x":180,"y":0.166},{"s":"2.13","x":184,"y":0.119},{"s":"2.13","x":188,"y":0.0871},{"s":"2.13","x":192,"y":0.107},{"s":"2.13","x":196.5,"y":0.134},{"s":"2.13","x":201,"y":0.107},{"s":"2.13","x":205.5,"y":0.0832},{"s":"2.13","x":212,"y":0.0898},{"s":"2.13","x":219,"y":0.0858},{"s":"2.13","x":226,"y":0.0845},{"s":"2.13","x":231,"y":0.0858},{"s":"2.13","x":236,"y":0.0970},{"s":"2.13","x":242.5,"y":0.0832},{"s":"2.13","x":247,"y":0.112},{"s":"2.13","x":251.5,"y":0.147},{"s":"2.13","x":256,"y":0.112},{"s":"2.13","x":261,"y":0.0871},{"s":"2.13","x":265.5,"y":0.119},
{"s":"2.13","x":270,"y":0.166},{"s":"2.13","x":274,"y":0.119},{"s":"2.13","x":278,"y":0.0871},{"s":"2.13","x":282,"y":0.107},{"s":"2.13","x":286.5,"y":0.134},{"s":"2.13","x":291,"y":0.107},{"s":"2.13","x":295.5,"y":0.0832},{"s":"2.13","x":302,"y":0.0898},{"s":"2.13","x":309,"y":0.0858},{"s":"2.13","x":316,"y":0.0845},{"s":"2.13","x":321,"y":0.0858},{"s":"2.13","x":326,"y":0.0970},{"s":"2.13","x":332.5,"y":0.0832},{"s":"2.13","x":337,"y":0.112},{"s":"2.13","x":341.5,"y":0.147},{"s":"2.13","x":346,"y":0.112},{"s":"2.13","x":351,"y":0.0871},{"s":"2.13","x":355.5,"y":0.119},{"s":"2.13","x":360,"y":0.166}
]},
"mark":{"type":"line","interpolate":"monotone","color":"black","strokeWidth":2.7,"clip":true},
"encoding":{
"x":{"field":"x","type":"quantitative","scale":{"domain":[0,360],"nice":false,"zero":false},"axis":{"values":[0,30,60,90,120,150,180,210,240,270,300,330,360],"format":"d","title":"θ (degrees)","titleFontSize":26,"titleFontWeight":"normal","titlePadding":15,"labelFontSize":19,"labelPadding":3,"tickSize":9,"tickWidth":2,"domainWidth":2,"labelFlush":false,"labelOverlap":false}},
"y":{"field":"y","type":"quantitative","scale":{"type":"log","domain":[0.07,60],"nice":false},"axis":{"values":[0.07,0.08,0.09,0.1,0.2,0.3,0.4,0.5,0.6,0.7,0.8,0.9,1,2,3,4,5,6,7,8,9,10,20,30,40,50],"labelExpr":"datum.value==0.1?'0.1':datum.value==1?'1':datum.value==10?'10':''","tickSize":{"condition":{"test":"datum.value==0.1||datum.value==1||datum.value==10","value":9},"value":5},"tickWidth":2,"domainWidth":2,"labelFontSize":20,"labelPadding":4,"labelOverlap":false,"labelFlush":false,"title":"Amplitude (a.u.)","titleFontSize":24,"titleFontWeight":"normal","titleX":-68,"titleY":250,"titleBaseline":"middle"}},
"detail":{"field":"s","type":"nominal"}
}},
{"data":{"values":[
{"s":"0.47","x":360,"y":59.3},{"s":"0.53","x":360,"y":42.3},{"s":"0.62","x":360,"y":29.3},{"s":"0.69","x":360,"y":20.9},{"s":"0.73","x":360,"y":15.4},{"s":"0.78","x":360,"y":11.0},{"s":"1.00","x":360,"y":6.36},{"s":"1.08","x":360,"y":4.64},{"s":"1.15","x":360,"y":3.415},{"s":"1.20","x":360,"y":2.493},{"s":"1.42","x":360,"y":1.59},{"s":"1.50","x":360,"y":0.94},{"s":"1.72","x":360,"y":0.493},{"s":"1.96","x":360,"y":0.219},{"s":"2.13","x":360,"y":0.105}
]},
"mark":{"type":"text","align":"left","baseline":"middle","dx":9,"fontSize":19.5,"color":"black","font":"Liberation Sans"},
"encoding":{"x":{"field":"x","type":"quantitative"},"y":{"field":"y","type":"quantitative"},"text":{"field":"s","type":"nominal"}}}
]
}
